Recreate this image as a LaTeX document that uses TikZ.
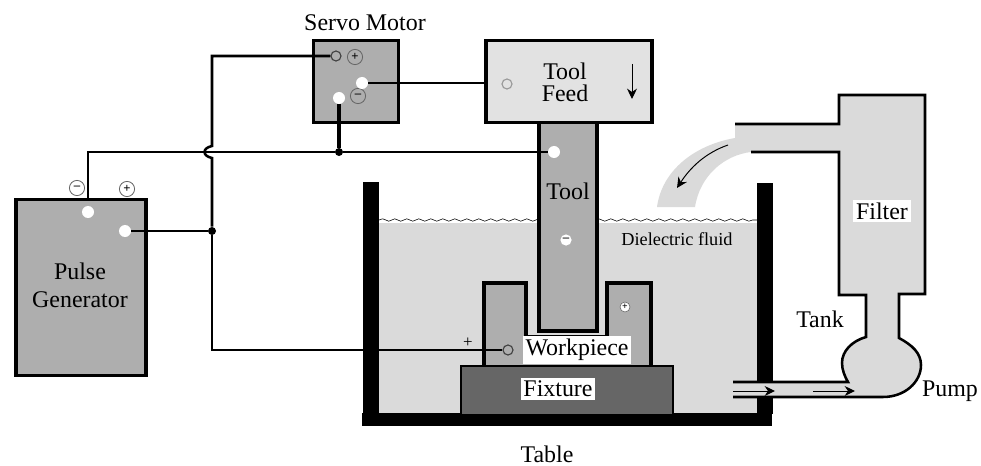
\documentclass[tikz,border=0pt]{standalone}
\usepackage{xcolor}
\usepackage{fontspec}
\setmainfont{Liberation Serif}
\usepackage{tikz}
\usetikzlibrary{arrows.meta,decorations.pathmorphing}
\definecolor{EDMFluid}{HTML}{DADADA}
\definecolor{EDMPale}{HTML}{E2E2E2}
\definecolor{EDMGrey}{HTML}{AEAEAE}
\definecolor{EDMDark}{HTML}{666666}
\tikzset{
  lbl/.style={inner sep=0pt,align=center,font=\fontsize{17}{20}\selectfont},
  tag/.style={lbl,fill=white,inner sep=2pt},
  box/.style={draw=black,line width=2.2pt,inner sep=0pt},
  wire/.style={line width=1.8pt,black},
  heavywire/.style={line width=3pt,black},
  dot/.style={circle,fill=white,inner sep=0pt,minimum width=0.3cm,minimum height=0.25cm},
  joint/.style={circle,fill=black,inner sep=0pt,minimum size=0.2cm},
  ring/.style={circle,draw=black!75,fill=#1,line width=0.8pt,inner sep=0pt,minimum size=0.25cm},
  sign/.style={circle,draw=black!60,line width=0.6pt,inner sep=0pt,minimum size=0.38cm,font=\small\bfseries},
  flow/.style={line width=0.7pt,-{Stealth[length=2.6mm,width=2.5mm]}}
}
\begin{document}
\begin{tikzpicture}[x=0.025cm,y=-0.025cm]
\path[use as bounding box] (0,0) rectangle (981,466);
% tank
\fill[EDMFluid] (378,223) rectangle (758,414);
\draw[line width=0.4pt,decorate,decoration={snake,amplitude=0.3mm,segment length=3mm}] (379,220) -- (757,220);
\fill[black] (363,182) rectangle (379,414);
\fill[black] (757,183) rectangle (773,414);
\fill[black] (362,413) rectangle (772,426);
% workpiece and fixture
\draw[fill=EDMGrey,line width=2.2pt] (484,366) -- (484,283) -- (526,283) -- (526,337) -- (607,337) -- (607,283) -- (651,283) -- (651,366);
\draw[fill=EDMDark,line width=2pt] (461,414) -- (461,366) -- (673,366) -- (673,414);
\node[tag] (workpiece) at (577,350) {Workpiece};
\node[tag] (fixture) at (558,389) {Fixture};
\node[lbl,font=\large] (plusmark) at (468,343) {+};
\node[circle,fill=white,draw=black!60,line width=0.4pt,inner sep=0pt,minimum size=0.25cm,font=\scriptsize\bfseries] (wpplus) at (625,307) {+};
% tool
\draw[fill=EDMGrey,line width=2.2pt] (539,123) -- (539,331) -- (597,331) -- (597,123);
\node[lbl] (toollabel) at (568,191) {Tool};
\node[circle,fill=white,inner sep=0pt,minimum size=0.28cm,font=\small\bfseries] (toolminus) at (566,240) {--};
\node[lbl,font=\fontsize{13}{15}\selectfont] (fluidlabel) at (677,239) {Dielectric fluid};
% filter, pump and return pipe
\fill[EDMFluid] (657,207) .. controls (662,170) and (695,145) .. (735,138) -- (735,124) -- (839,124) -- (839,95) -- (925,95) -- (925,293) -- (899,293) -- (899,338)
  .. controls (912,345) and (921,353) .. (921,365) .. controls (921,382) and (905,397) .. (883,397) -- (733,397) -- (733,382) -- (848,382)
  .. controls (845,377) and (842,370) .. (842,363) .. controls (842,351) and (852,341) .. (866,337) -- (866,295) -- (839,295) -- (839,152) -- (751,152)
  .. controls (725,155) and (700,175) .. (695,207) -- cycle;
\draw[line width=1.8pt] (735,124) -- (839,124) -- (839,95) -- (925,95) -- (925,294) -- (899,294) -- (899,338)
  .. controls (912,345) and (921,353) .. (921,365) .. controls (921,382) and (905,397) .. (883,397) -- (733,397);
\draw[line width=1.8pt] (751,152) -- (839,152) -- (839,295) -- (866,295) -- (866,337)
  .. controls (852,341) and (842,351) .. (842,363) .. controls (842,370) and (845,377) .. (848,382) -- (733,382);
\node[tag] (filter) at (882,211) {Filter};
\node[lbl] (tank) at (820,319) {Tank};
\node[lbl] (pump) at (950,391) {Pump};
\node[lbl] (table) at (547,454) {Table};
\coordinate (nozzlestart) at (728,145);
\coordinate (nozzleend) at (677,188);
\draw[flow] (nozzlestart) .. controls (705,153) and (690,168) .. (nozzleend);
\coordinate (pipeaA) at (733,391);
\coordinate (pipeaB) at (775,391);
\coordinate (pipebA) at (813,391);
\coordinate (pipebB) at (855,391);
\draw[flow] (pipeaA) -- (pipeaB);
\draw[flow] (pipebA) -- (pipebB);
% boxes
\node[box,fill=EDMGrey,minimum width=2.12cm,minimum height=2.03cm] (servo) at (356,81.5) {};
\node[lbl,anchor=south] (servolabel) at (365,31) {Servo Motor};
\node[box,fill=EDMPale,minimum width=4.15cm,minimum height=2.03cm] (feed) at (569,81.5) {};
\node[lbl,font=\fontsize{17}{15.5}\selectfont] (feedlabel) at (565,82) {Tool\\Feed};
\coordinate (feedarrowA) at (632,64);
\coordinate (feedarrowB) at (632,99);
\draw[flow] (feedarrowA) -- (feedarrowB);
\node[box,fill=EDMGrey,minimum width=3.25cm,minimum height=4.4cm] (generator) at (81,287.5) {};
\node[lbl] (generatorlabel) at (80,285) {Pulse\\Generator};
% terminals
\node[ring=EDMGrey] (servoin) at (336,56) {};
\node[sign] (servoplus) at (355,57) {+};
\node[sign] (servominus) at (358,96) {--};
\node[dot] (servoA) at (362,83) {};
\node[dot] (servoB) at (339,98) {};
\node[ring=EDMPale,draw=black!40] (feedin) at (507,84) {};
\node[dot] (toolin) at (554,152) {};
\node[ring=EDMGrey] (wpin) at (508,350) {};
\node[dot] (genA) at (88,212) {};
\node[dot] (genB) at (125,231) {};
\node[sign] (genminus) at (77,188) {--};
\node[sign] (genplus) at (127,189) {+};
\node[joint] (jointA) at (339,152) {};
\node[joint] (jointB) at (212,231) {};
% wiring
\coordinate (gentop) at (88,199);
\coordinate (hopA) at (212,146);
\coordinate (hopB) at (212,158);
\draw[wire] (gentop) |- (jointA);
\draw[wire] (jointA) -- (toolin);
\draw[heavywire] (servoB) -- (jointA);
\draw[wire] (servoA) -- (feed.west |- servoA);
\draw[wire] (genB) -- (jointB);
\draw[wire] (servoin) -| (hopA) .. controls (202,148) and (202,156) .. (hopB) -- (jointB);
\draw[wire] (jointB) |- (wpin);
\end{tikzpicture}
\end{document}
